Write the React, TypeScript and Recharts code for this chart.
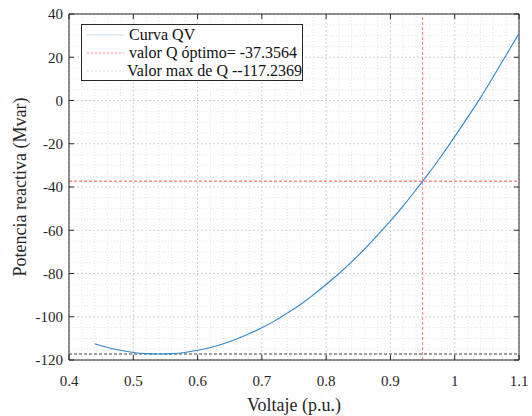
import { LineChart, Line, XAxis, YAxis, CartesianGrid, ReferenceLine, Label } from 'recharts'

// Curva QV (p.u. vs Mvar)
const voltage = [
  0.44, 0.46, 0.48, 0.5, 0.52, 0.54, 0.56, 0.58, 0.6, 0.62, 0.64, 0.66, 0.68, 0.7, 0.72, 0.74, 0.76,
  0.78, 0.8, 0.82, 0.84, 0.86, 0.88, 0.9, 0.92, 0.94, 0.95, 0.96, 0.98, 1.0, 1.02, 1.04, 1.06, 1.08, 1.1,
]
const reactivePower = [
  -112.5, -114.2, -115.5, -116.5, -117.05, -117.24, -117.05, -116.5, -115.5, -114.2, -112.5, -110.4,
  -107.9, -105.1, -101.9, -98.2, -94.3, -89.9, -85.1, -80.0, -74.5, -68.6, -62.3, -55.7, -48.7, -41.2,
  -37.36, -33.5, -25.3, -16.7, -7.8, 1.2, 11.0, 21.0, 31.0,
]

const xTicks = [0.4, 0.5, 0.6, 0.7, 0.8, 0.9, 1, 1.1]
const yTicks = [-120, -100, -80, -60, -40, -20, 0, 20, 40]

const vOptimo = 0.95
const qOptimo = -37.3564
const qMax = -117.2369

const legendLabels = ['Curva QV', 'valor Q óptimo= -37.3564', 'Valor max de Q --117.2369']

// minor grid: 5 steps between x ticks, 4 between y ticks
const xMinor: number[] = []
for (let i = 0; i < xTicks.length - 1; i++) {
  for (let k = 1; k < 5; k++) xMinor.push(+(xTicks[i] + (k * (xTicks[i + 1] - xTicks[i])) / 5).toFixed(3))
}
const yMinor: number[] = []
for (let i = 0; i < yTicks.length - 1; i++) {
  for (let k = 1; k < 4; k++) yMinor.push(yTicks[i] + (k * (yTicks[i + 1] - yTicks[i])) / 4)
}

const chartData = voltage.map((v, i) => ({ v, q: reactivePower[i] }))

const FONT = '"Liberation Serif", "DejaVu Serif", serif'
const INK = '#262626'
const BLUE = '#2f86c8'
const RED = '#ff8c8c'

const W = 532
const H = 416
const MARGIN = { top: 14, right: 13, left: 0, bottom: 0 }
const Y_AXIS_W = 69
const X_AXIS_H = 56
const PLOT_W = W - MARGIN.left - MARGIN.right - Y_AXIS_W
const PLOT_H = H - MARGIN.top - MARGIN.bottom - X_AXIS_H
const TICK_LEN = 5
const X_MARGIN = 15
const Y_MARGIN = 6

const legendSwatch = [
  { color: '#c9d9ea', dash: undefined },
  { color: RED, dash: '2 2' },
  { color: '#d8d8d8', dash: '2 2' },
]

function LegendBox() {
  return (
    <div
      style={{
        position: 'absolute',
        left: 81,
        top: 24,
        width: 222,
        height: 57,
        border: `1px solid ${INK}`,
        background: '#fff',
        fontFamily: FONT,
        fontSize: 16,
        color: '#111',
        boxSizing: 'border-box',
        paddingTop: 1,
      }}
    >
      {legendLabels.map((label, i) => (
        <div key={label} style={{ display: 'flex', alignItems: 'center', height: 18, whiteSpace: 'nowrap' }}>
          <svg width={42} height={10} style={{ marginLeft: 5 }}>
            <line x1={0} x2={37} y1={5} y2={5} stroke={legendSwatch[i].color} strokeDasharray={legendSwatch[i].dash} strokeWidth={1} />
          </svg>
          <span style={{ lineHeight: '18px' }}>{label}</span>
        </div>
      ))}
    </div>
  )
}

// bottom tick: label plus inward marks on bottom and top edges
function XTick(props: any) {
  const { x, y, payload } = props
  const axisY = y - X_MARGIN
  return (
    <g>
      <line x1={x} x2={x} y1={axisY} y2={axisY - TICK_LEN} stroke={INK} />
      <line x1={x} x2={x} y1={axisY - PLOT_H} y2={axisY - PLOT_H + TICK_LEN} stroke={INK} />
      <text x={x} y={y} dy="0.71em" textAnchor="middle" fontSize={15} fill={INK} fontFamily={FONT}>
        {String(payload.value)}
      </text>
    </g>
  )
}

// left tick: label plus inward marks on left and right edges
function YTick(props: any) {
  const { x, y, payload } = props
  const axisX = x + Y_MARGIN
  return (
    <g>
      <line x1={axisX} x2={axisX + TICK_LEN} y1={y} y2={y} stroke={INK} />
      <line x1={axisX + PLOT_W} x2={axisX + PLOT_W - TICK_LEN} y1={y} y2={y} stroke={INK} />
      <text x={x} y={y} dy="0.355em" textAnchor="end" fontSize={15} fill={INK} fontFamily={FONT}>
        {String(payload.value)}
      </text>
    </g>
  )
}

export default function App() {
  return (
    <div style={{ position: 'absolute', left: 0, top: 0, width: W, height: H, background: '#fff', fontFamily: FONT }}>
      <LineChart width={W} height={H} data={chartData} margin={MARGIN}>
        <CartesianGrid stroke="#d2d2d2" strokeDasharray="2 2" />
        {xMinor.map(x => (
          <ReferenceLine key={`xm-${x}`} x={x} stroke="#e4e4e4" strokeDasharray="1 2" />
        ))}
        {yMinor.map(y => (
          <ReferenceLine key={`ym-${y}`} y={y} stroke="#e4e4e4" strokeDasharray="1 2" />
        ))}
        {/* box: top and right edges */}
        <ReferenceLine y={40} stroke={INK} />
        <ReferenceLine x={1.1} stroke={INK} />
        <XAxis
          dataKey="v"
          type="number"
          domain={[0.4, 1.1]}
          ticks={xTicks}
          interval={0}
          allowDataOverflow
          height={X_AXIS_H}
          tickSize={0}
          tickMargin={X_MARGIN}
          axisLine={{ stroke: INK }}
          tick={<XTick />}
        >
          <Label value="Voltaje (p.u.)" position="insideBottom" offset={5} style={{ fontSize: 18, fill: INK, fontFamily: FONT }} />
        </XAxis>
        <YAxis
          type="number"
          domain={[-120, 40]}
          ticks={yTicks}
          interval={0}
          allowDataOverflow
          width={Y_AXIS_W}
          tickSize={0}
          tickMargin={Y_MARGIN}
          axisLine={{ stroke: INK }}
          tick={<YTick />}
        >
          <Label
            value="Potencia reactiva (Mvar)"
            angle={-90}
            position="insideLeft"
            offset={20}
            style={{ fontSize: 18, fill: INK, textAnchor: 'middle', fontFamily: FONT }}
          />
        </YAxis>
        <ReferenceLine y={qOptimo} stroke={RED} strokeWidth={1.5} strokeDasharray="3 2" />
        <ReferenceLine x={vOptimo} stroke={RED} strokeWidth={1.2} strokeDasharray="3 2" />
        <ReferenceLine y={qMax} stroke="#444" strokeWidth={1} strokeDasharray="3 2" />
        <Line type="monotone" dataKey="q" stroke={BLUE} strokeWidth={1.1} dot={false} isAnimationActive={false} />
      </LineChart>
      <LegendBox />
    </div>
  )
}
